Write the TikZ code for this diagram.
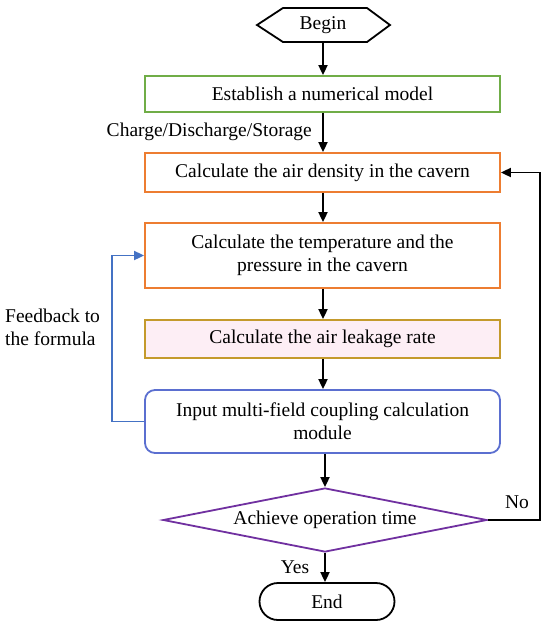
\documentclass[tikz,border=0pt]{standalone}
\usepackage{fontspec}
\setmainfont{Liberation Serif}
\usetikzlibrary{shapes.geometric,shapes.misc,arrows.meta}
\definecolor{cgreen}{HTML}{70AD47}
\definecolor{corange}{HTML}{ED7D31}
\definecolor{cgold}{HTML}{C49A2C}
\definecolor{cpink}{HTML}{FDEEF5}
\definecolor{cblue}{HTML}{5B6FD0}
\definecolor{cfeed}{HTML}{4472C4}
\definecolor{cpurple}{HTML}{7030A0}
\begin{document}
\begin{tikzpicture}[x=1pt,y=-1pt,
  font=\fontsize{19.5}{23}\selectfont,
  box/.style={draw, line width=1.8pt, minimum width=355pt, inner sep=0pt, align=center, fill=white},
  arr/.style={line width=1.8pt, -{Triangle[length=10pt,width=9pt]}},
  lbl/.style={inner sep=0pt}]
\useasboundingbox (0,0) rectangle (550,630);
% Begin hexagon
\node[lbl, minimum width=133pt, minimum height=34pt] (begin) at (323,25) {Begin};
\draw[line width=1.8pt] (257,25) -- (283,8) -- (367,8) -- (390,25) -- (367,42) -- (283,42) -- cycle;
% boxes
\node[box, draw=cgreen, minimum height=36pt] (model) at (322.5,94) {Establish a numerical model};
\node[box, draw=corange, minimum height=39pt] (dens) at (322.5,172.5) {Calculate the air density in the cavern};
\node[box, draw=corange, minimum height=65pt] (temp) at (322.5,255.5) {Calculate the temperature and the\\pressure in the cavern};
\node[box, draw=cgold, fill=cpink, minimum height=38pt] (leak) at (322.5,339) {Calculate the air leakage rate};
\node[box, draw=cblue, rounded corners=10pt, minimum height=63pt] (input) at (322.5,421.5) {Input multi-field coupling calculation\\module};
\node[diamond, draw=cpurple, line width=1.8pt, aspect=5, minimum width=324pt, minimum height=64pt, inner sep=0pt] (dec) at (325,520) {Achieve operation time};
\node[rounded rectangle, draw, line width=1.8pt, minimum width=135pt, minimum height=37pt, inner sep=0pt] (end) at (327,601.5) {End};
% labels
\node[lbl, anchor=east] (cds) at (312,132) {Charge/Discharge/Storage};
\node[lbl, anchor=west, align=left] (fb) at (5,327) {Feedback to\\the formula};
\node[lbl] (no) at (517,502) {No};
\node[lbl] (yes) at (295,567) {Yes};
% connectors
\coordinate (bb) at (323,42);
\draw[arr] (bb) -- (model.north -| bb);
\draw[arr] (model.south -| bb) -- (dens.north -| bb);
\draw[arr] (dens.south -| bb) -- (temp.north -| bb);
\draw[arr] (temp.south -| bb) -- (leak.north -| bb);
\draw[arr] (leak.south -| bb) -- (input.north -| bb);
\draw[arr] (input.south -| dec.north) -- (dec.north);
\draw[arr] (dec.south) -- (end.north -| dec.south);
\coordinate (nr) at (540,520);
\coordinate (nt) at (540,172.5);
\draw[arr] (dec.east) -- (nr) -- (nt) -- (dens.east);
\coordinate (fl) at (112,421.5);
\coordinate (ft) at (112,255.5);
\draw[arr, color=cfeed] (input.west) -- (fl) -- (ft) -- (temp.west);
\end{tikzpicture}
\end{document}
